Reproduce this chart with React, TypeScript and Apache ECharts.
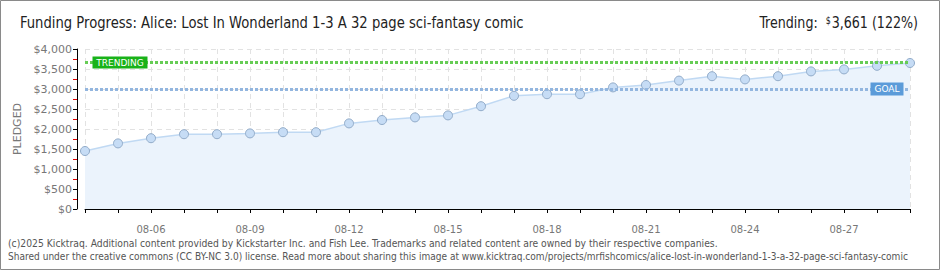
import React, { useEffect, useRef } from "react";
import * as echarts from "echarts";

const dates = [
  "08-04", "08-05", "08-06", "08-07", "08-08", "08-09", "08-10", "08-11", "08-12",
  "08-13", "08-14", "08-15", "08-16", "08-17", "08-18", "08-19", "08-20", "08-21",
  "08-22", "08-23", "08-24", "08-25", "08-26", "08-27", "08-28", "08-29",
];
const pledged = [
  1450, 1640, 1770, 1870, 1870, 1890, 1920, 1920, 2140, 2225, 2290, 2340, 2570,
  2830, 2870, 2870, 3040, 3100, 3210, 3320, 3240, 3320, 3440, 3490, 3580, 3650,
];
const goal = 3000;
const trending = 3661;
const titleText = "Funding Progress: Alice: Lost In Wonderland 1-3 A 32 page sci-fantasy comic";
const trendingLabel = "Trending:";
const trendingValue = "3,661 (122%)";
const footer1 =
  "(c)2025 Kicktraq. Additional content provided by Kickstarter Inc. and Fish Lee. Trademarks and related content are owned by their respective companies.";
const footer2 =
  "Shared under the creative commons (CC BY-NC 3.0) license. Read more about sharing this image at www.kicktraq.com/projects/mrfishcomics/alice-lost-in-wonderland-1-3-a-32-page-sci-fantasy-comic";

export default function App() {
  const ref = useRef<HTMLDivElement>(null);
  useEffect(() => {
    if (!ref.current) return;
    const chart = echarts.init(ref.current, null, { renderer: "svg" });
    const axisFont = "'DejaVu Sans', sans-serif";
    const titleFont = "16px 'DejaVu Sans Condensed', 'DejaVu Sans', sans-serif";
    chart.setOption({
      animation: false,
      backgroundColor: "#ffffff",
      grid: { left: 85, right: 30, top: 49, bottom: 61, containLabel: false },
      xAxis: {
        type: "category",
        data: dates,
        boundaryGap: false,
        offset: 11,
        axisLine: { show: true, lineStyle: { color: "#000", width: 1 } },
        axisTick: { show: true, interval: 0, length: 4, lineStyle: { color: "#000" } },
        axisLabel: {
          interval: (i: number) => i % 3 === 2,
          color: "#777",
          fontFamily: axisFont,
          fontSize: 10,
          margin: 4,
        },
        splitLine: {
          show: true,
          interval: 0,
          lineStyle: { color: "#e2e2e2", type: [5, 4], width: 1 },
        },
      },
      yAxis: {
        type: "value",
        min: 0,
        max: 4000,
        interval: 500,
        offset: 8,
        name: "PLEDGED",
        nameLocation: "middle",
        nameGap: 54,
        nameTextStyle: { color: "#777", fontFamily: axisFont, fontSize: 11 },
        axisLine: { show: true, lineStyle: { color: "#000", width: 1 } },
        axisTick: { show: true, length: 4, lineStyle: { color: "#000" } },
        minorTick: { show: true, splitNumber: 2, length: 4, lineStyle: { color: "#e00000" } },
        axisLabel: {
          color: "#777",
          fontFamily: axisFont,
          fontSize: 11,
          margin: 5,
          formatter: (v: number) => "$" + v.toLocaleString("en-US"),
        },
        splitLine: { show: true, lineStyle: { color: "#e2e2e2", type: [5, 4], width: 1 } },
      },
      series: [
        {
          type: "line",
          data: pledged,
          symbol: "circle",
          symbolSize: 9,
          lineStyle: { color: "#c0d9f3", width: 1.5 },
          itemStyle: { color: "#c6dcf5", borderColor: "#91abc9", borderWidth: 1 },
          areaStyle: { color: "#ebf3fc", opacity: 1 },
          z: 3,
          markLine: {
            silent: true,
            symbol: "none",
            label: { show: false },
            data: [
              { yAxis: trending, lineStyle: { color: "#66cc55", width: 3, type: [3, 2] } },
              { yAxis: goal, lineStyle: { color: "#93b6df", width: 3, type: [3, 2] } },
            ],
          },
          markPoint: {
            silent: true,
            data: [
              {
                coord: [1, trending],
                symbol: "rect",
                symbolSize: [55, 12],
                symbolOffset: [2, 0],
                itemStyle: { color: "#19b219" },
                label: {
                  show: true,
                  formatter: "TRENDING",
                  color: "#fff",
                  fontFamily: axisFont,
                  fontSize: 9,
                },
              },
              {
                coord: [24, goal],
                symbol: "rect",
                symbolSize: [33, 13],
                symbolOffset: [10, 0],
                itemStyle: { color: "#5b9bd9" },
                label: {
                  show: true,
                  formatter: "GOAL",
                  color: "#fff",
                  fontFamily: axisFont,
                  fontSize: 9,
                },
              },
            ],
          },
        },
      ],
      graphic: [
        {
          type: "rect",
          shape: { x: 0.5, y: 0.5, width: 939, height: 269 },
          style: { fill: "none", stroke: "#8a8a8a", lineWidth: 1 },
          silent: true,
        },
        {
          type: "text",
          x: 20,
          y: 23,
          scaleX: 0.915,
          style: {
            text: titleText,
            fill: "#222",
            font: titleFont,
            textVerticalAlign: "middle",
          },
        },
        {
          type: "text",
          x: 918,
          y: 23,
          scaleX: 0.88,
          style: {
            text: "{a|" + trendingLabel + "  }{s|$}{a|" + trendingValue + "}",
            fill: "#222",
            font: titleFont,
            textAlign: "right",
            textVerticalAlign: "middle",
            rich: {
              a: {
                fontFamily: "'DejaVu Sans Condensed', 'DejaVu Sans', sans-serif",
                fontSize: 16,
                fontWeight: "normal",
                fill: "#222",
              },
              s: {
                fontFamily: "'DejaVu Sans Condensed', 'DejaVu Sans', sans-serif",
                fontSize: 10,
                fontWeight: "normal",
                fill: "#222",
                verticalAlign: "top",
                padding: [0, 1, 6, 0],
              },
            },
          },
        },
        {
          type: "text",
          x: 8,
          y: 243,
          scaleX: 0.925,
          style: {
            text: footer1,
            fill: "#555",
            font: "10px 'DejaVu Sans', sans-serif",
            textVerticalAlign: "middle",
          },
        },
        {
          type: "text",
          x: 8,
          y: 256,
          scaleX: 0.905,
          style: {
            text: footer2,
            fill: "#555",
            font: "10px 'DejaVu Sans', sans-serif",
            textVerticalAlign: "middle",
          },
        },
      ],
    });
    return () => chart.dispose();
  }, []);
  return (
    <div
      ref={ref}
      style={{ position: "fixed", left: 0, top: 0, width: 940, height: 270 }}
    />
  );
}
